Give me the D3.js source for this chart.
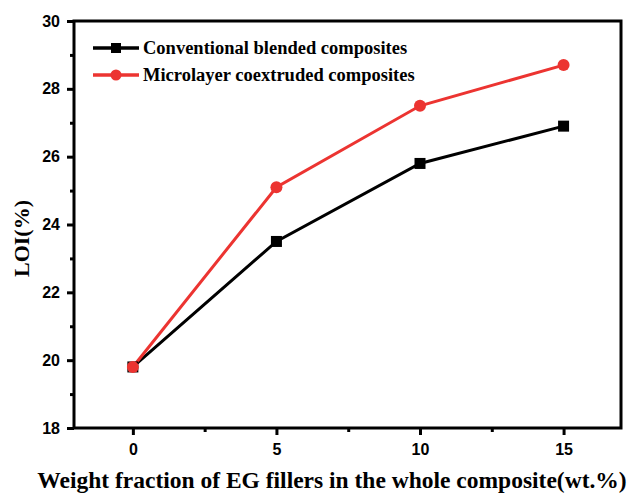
<!DOCTYPE html>
<html>
<head>
<meta charset="utf-8">
<script src="https://cdn.jsdelivr.net/npm/d3@7"></script>
<style>
  body { margin: 0; background: #fff; }
  svg { display: block; }
</style>
</head>
<body>
<svg width="633" height="494"></svg>
<script>
// data
const xValues = [0, 5, 10, 15];
const conventional = [19.8, 23.5, 25.8, 26.9];
const microlayer = [19.8, 25.1, 27.5, 28.7];
const seriesNames = ['Conventional blended composites', 'Microlayer coextruded composites'];
const xTicks = [0, 5, 10, 15];
const yTicks = [18, 20, 22, 24, 26, 28, 30];

const svg = d3.select('svg');
const width = +svg.attr('width');
const height = +svg.attr('height');

const plotL = 74, plotR = 621, plotT = 21, plotB = 428;

const x = d3.scaleLinear().domain([-2.05, 17]).range([plotL, plotR]);
const y = d3.scaleLinear().domain([18, 30]).range([plotB, plotT]);

const red = '#ec3431';

const g = svg.append('g');

// frame
g.append('rect')
    .attr('x', plotL).attr('y', plotT)
    .attr('width', plotR - plotL).attr('height', plotB - plotT)
    .attr('fill', 'none').attr('stroke', '#000').attr('stroke-width', 3);

// y axis
const yAxis = g.append('g')
    .attr('transform', `translate(${plotL},0)`)
    .call(d3.axisLeft(y).tickValues(yTicks).tickSize(7).tickPadding(7).tickFormat(d3.format('d')));
const yMinor = g.append('g')
    .attr('transform', `translate(${plotL},0)`)
    .call(d3.axisLeft(y).tickValues(d3.range(19, 30, 2)).tickSize(4).tickFormat(''));

// x axis
const xAxis = g.append('g')
    .attr('transform', `translate(0,${plotB})`)
    .call(d3.axisBottom(x).tickValues(xTicks).tickSize(7).tickPadding(9).tickFormat(d3.format('d')));
const xMinor = g.append('g')
    .attr('transform', `translate(0,${plotB})`)
    .call(d3.axisBottom(x).tickValues([2.5, 7.5, 12.5]).tickSize(4).tickFormat(''));

[yAxis, yMinor, xAxis, xMinor].forEach(a => {
  a.select('.domain').remove();
  a.selectAll('line').attr('stroke', '#000').attr('stroke-width', 3);
  a.selectAll('text')
    .attr('font-family', '"Liberation Sans", Arial, sans-serif')
    .attr('font-weight', 'bold')
    .attr('font-size', 16)
    .attr('fill', '#000');
});

// lines
const line = d3.line().x((d, i) => x(xValues[i])).y(d => y(d));

g.append('path').datum(conventional)
    .attr('d', line).attr('fill', 'none')
    .attr('stroke', '#000').attr('stroke-width', 3);
g.append('path').datum(microlayer)
    .attr('d', line).attr('fill', 'none')
    .attr('stroke', red).attr('stroke-width', 3);

const sq = 11;
g.selectAll('.sq').data(conventional).join('rect')
    .attr('x', (d, i) => x(xValues[i]) - sq / 2)
    .attr('y', d => y(d) - sq / 2)
    .attr('width', sq).attr('height', sq)
    .attr('fill', '#000');
g.selectAll('.dot').data(microlayer).join('circle')
    .attr('cx', (d, i) => x(xValues[i]))
    .attr('cy', d => y(d))
    .attr('r', 6)
    .attr('fill', red);

// legend
const legend = g.append('g');
const legendY = [48, 75];
[0, 1].forEach(i => {
  const col = i === 0 ? '#000' : red;
  legend.append('line')
      .attr('x1', 93).attr('x2', 139)
      .attr('y1', legendY[i]).attr('y2', legendY[i])
      .attr('stroke', col).attr('stroke-width', 3.5);
  if (i === 0) {
    legend.append('rect').attr('x', 116 - 5).attr('y', legendY[i] - 5)
        .attr('width', 10).attr('height', 10).attr('fill', col);
  } else {
    legend.append('circle').attr('cx', 116).attr('cy', legendY[i]).attr('r', 5.5).attr('fill', col);
  }
  legend.append('text')
      .attr('x', 143).attr('y', legendY[i] + 6)
      .attr('font-family', '"Liberation Serif", "Times New Roman", serif')
      .attr('font-weight', 'bold').attr('font-size', 18.5)
      .text(seriesNames[i]);
});

// axis titles
svg.append('text')
    .attr('transform', `translate(29,${(plotT + plotB) / 2 + 14}) rotate(-90)`)
    .attr('text-anchor', 'middle')
    .attr('font-family', '"Liberation Serif", "Times New Roman", serif')
    .attr('font-weight', 'bold').attr('font-size', 22)
    .text('LOI(%)');

svg.append('text')
    .attr('x', 332).attr('y', 488)
    .attr('text-anchor', 'middle')
    .attr('font-family', '"Liberation Serif", "Times New Roman", serif')
    .attr('font-weight', 'bold').attr('font-size', 23.5)
    .text('Weight fraction of EG fillers in the whole composite(wt.%)');
</script>
</body>
</html>
